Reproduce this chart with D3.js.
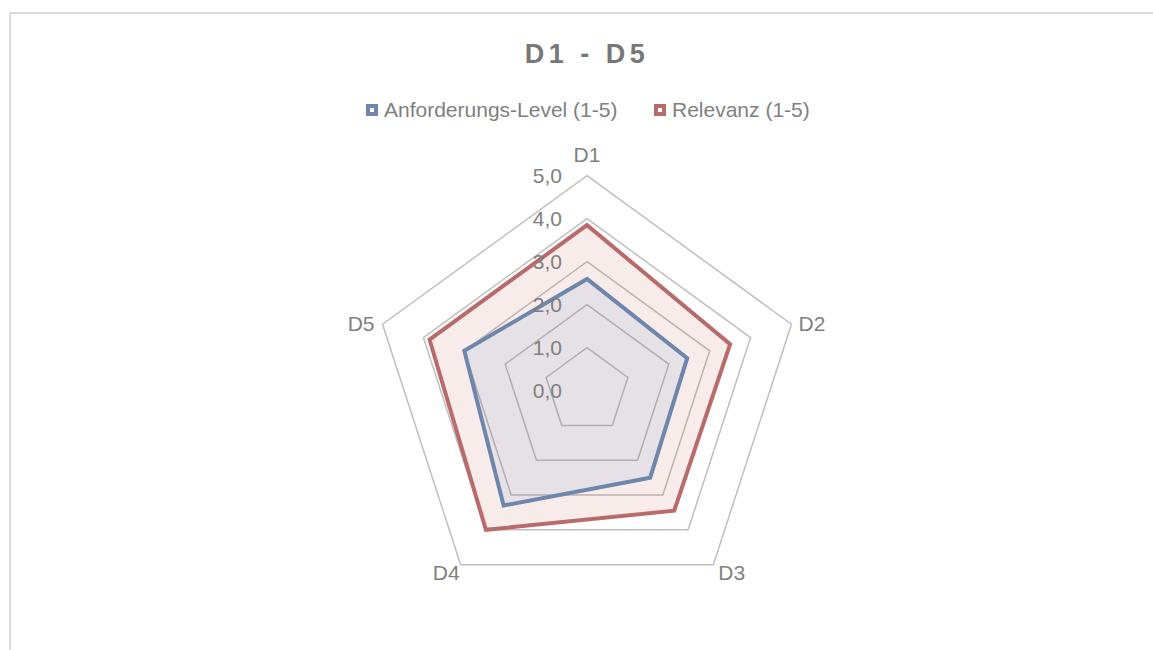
<!DOCTYPE html>
<html><head><meta charset="utf-8">
<script src="https://cdn.jsdelivr.net/npm/d3@7"></script>
<style>
html,body{margin:0;padding:0;background:#fff;}
svg{display:block;font-family:"Liberation Sans",Arial,sans-serif;}
</style></head>
<body><svg id="c" width="1153" height="650"></svg>
<script>
const categories = ["D1","D2","D3","D4","D5"];
const anforderung = [2.6, 2.45, 2.5, 3.3, 3.0];
const relevanz = [3.85, 3.5, 3.45, 4.0, 3.85];
const ticks = [0,1,2,3,4,5];
const seriesNames = ["Anforderungs-Level (1-5)","Relevanz (1-5)"];

const svg = d3.select("#c");
const cx = 587, cy = 390.7, R = 215;
const r = d3.scaleLinear().domain([0,5]).range([0,R]);
const ang = d3.scalePoint().domain(categories).range([0, 2*Math.PI*(categories.length-1)/categories.length]);
const pt = (c,v) => { const a = ang(c); return [cx + r(v)*Math.sin(a), cy - r(v)*Math.cos(a)]; };

// border
svg.append("path").attr("d","M10,660 L10,13 L1160,13").attr("fill","none").attr("stroke","#d9d9d9").attr("stroke-width",2);

// grid
const line = d3.line();
ticks.filter(t=>t>0).forEach(t=>{
  svg.append("path").attr("d", line(categories.map(c=>pt(c,t)))+"Z")
    .attr("fill","none").attr("stroke","#bfbfbf").attr("stroke-width",1.5);
});

// series
const series = [
  {name:seriesNames[1], vals:relevanz, stroke:"#b96a6a", fill:"#c0504d", op:0.11},
  {name:seriesNames[0], vals:anforderung, stroke:"#6e86ab", fill:"#4f81bd", op:0.1}
];
series.forEach(s=>{
  svg.append("path").attr("d", line(categories.map((c,i)=>pt(c,s.vals[i])))+"Z")
    .attr("fill",s.fill).attr("fill-opacity",s.op).attr("stroke","none");
});
series.forEach(s=>{
  svg.append("path").attr("d", line(categories.map((c,i)=>pt(c,s.vals[i])))+"Z")
    .attr("fill","none").attr("stroke",s.stroke).attr("stroke-width",4).attr("stroke-linejoin","miter");
});

// tick labels
svg.selectAll("text.tick").data(ticks).join("text").attr("class","tick")
  .attr("x", cx-25).attr("y", d=>cy - r(d)).attr("dy","0.35em")
  .attr("text-anchor","end").attr("font-size",21).attr("fill","#7f7f7f")
  .text(d=>d3.format(".1f")(d).replace(".",","));

// category labels
const lab = {D1:{dx:0,dy:-21,a:"middle"},D2:{dx:7,dy:-1,a:"start"},D3:{dx:5,dy:8,a:"start"},D4:{dx:-1,dy:8,a:"end"},D5:{dx:-8,dy:-1,a:"end"}};
categories.forEach(c=>{
  const [x,y]=pt(c,5); const o=lab[c]||{dx:0,dy:0,a:"middle"};
  svg.append("text").attr("x",x+o.dx).attr("y",y+o.dy).attr("dy","0.35em")
    .attr("text-anchor",o.a).attr("font-size",21).attr("fill","#7f7f7f").text(c);
});

// title
svg.append("text").attr("x",587).attr("y",54).attr("dy","0.35em").attr("text-anchor","middle")
  .attr("font-size",27).attr("font-weight","bold").attr("letter-spacing",4.5).attr("fill","#777777").text("D1 - D5");

// legend
const leg = [{name:seriesNames[0],c:"#6e86ab",x:366},{name:seriesNames[1],c:"#b96a6a",x:654}];
leg.forEach(l=>{
  svg.append("rect").attr("x",l.x).attr("y",104).attr("width",12).attr("height",12).attr("fill",l.c);
  svg.append("rect").attr("x",l.x+4).attr("y",108).attr("width",4).attr("height",4).attr("fill","#fff");
  svg.append("text").attr("x",l.x+18).attr("y",110).attr("dy","0.35em")
    .attr("font-size",21).attr("fill","#7f7f7f").text(l.name);
});
</script></body></html>
